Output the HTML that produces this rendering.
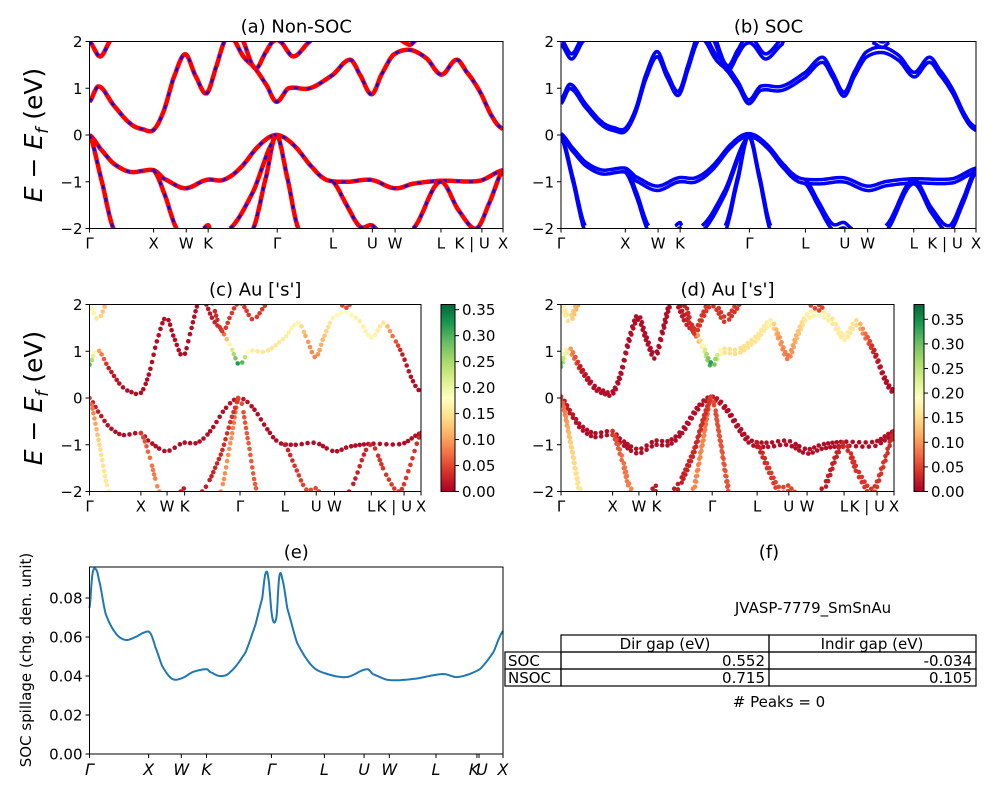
<!DOCTYPE html>
<html><head><meta charset="utf-8"><style>
body{margin:0;background:#fff}
svg{display:block;font-family:"DejaVu Sans","Liberation Sans",sans-serif}
</style></head><body>
<svg id="fig" width="1000" height="800" viewBox="0 0 1000 800" xmlns="http://www.w3.org/2000/svg">
<defs>
<linearGradient id="cmap" x1="0" y1="1" x2="0" y2="0">
<stop offset="0" stop-color="#a50026"/><stop offset="0.1" stop-color="#d73027"/><stop offset="0.2" stop-color="#f46d43"/><stop offset="0.3" stop-color="#fdae61"/><stop offset="0.4" stop-color="#fee08b"/><stop offset="0.5" stop-color="#ffffbf"/><stop offset="0.6" stop-color="#d9ef8b"/><stop offset="0.7" stop-color="#a6d96a"/><stop offset="0.8" stop-color="#66bd63"/><stop offset="0.9" stop-color="#1a9850"/><stop offset="1" stop-color="#006837"/>
</linearGradient>
</defs>
</svg>
<script>
// k-path labels (fractions of path, 0..100)
const kLabels = ["Γ","X","W","K","Γ","L","U","W","L","K | U","X"];
const kTicks = [0,15.5,23.4,28.7,45.4,58.9,68.4,73.9,85.0,94.9,100];
const eTicks = [2,1,0,-1,-2];
// bands: k positions and energies (eV)
const bandK = [
 [0,2.2,5.8,9.8,13.0,15.5,17.9,20.3,23.1,25.5,28.3,30.8,32.8,33.6],
 [34.4,37.2,40.0,42.8,45.2,48.1,53.3,58.9,63.0,65.4,68.2,70.6,73.4,77.5,81.5,85.1,88.7,91.1,94.4,97.6,100],
 [36.4,40.0,42.8,44.4,46.1,49.3,53.3,54.1],
 [0,2.6,5.4,5.8],
 [75.0,77.5,79.1],
 [0,2.6,5.8,9.8,15.5,17.9,23.1,28.3,32.4,36.4,41.2,45.2,49.3,54.1,57.3,62.2,68.2,73.8,78.3,84.7,94.4,100],
 [0,3.0,5.8],
 [15.5,17.9,21.1],
 [39.6,42.8,45.2,47.7,50.5],
 [34.0,39.6,44.4,45.2],
 [58.9,62.2,65.4,68.2,70.2],
 [78.3,84.7,89.5,93.6,96.8,100],
 [27.5,28.7,29.1]
];
const bandE = [
 [0.71,1.04,0.64,0.25,0.12,0.11,0.5,1.21,1.73,1.29,0.89,1.5,2.04,2.2],
 [2.1,1.68,1.43,1.07,0.71,1.0,1.0,1.29,1.61,1.29,0.87,1.29,1.71,1.82,1.64,1.29,1.61,1.36,0.93,0.36,0.13],
 [2.14,1.43,1.79,2.0,2.0,1.68,2.0,2.14],
 [2.0,1.68,2.07,2.14],
 [2.04,1.93,2.04],
 [0,-0.29,-0.61,-0.79,-0.75,-0.93,-1.14,-0.96,-0.96,-0.71,-0.21,0,-0.21,-0.71,-0.96,-1.0,-0.96,-1.14,-1.04,-0.98,-0.98,-0.75],
 [0,-1.0,-2.0],
 [-0.75,-1.21,-2.0],
 [-2.0,-0.86,0,-0.86,-2.0],
 [-2.0,-1.21,-0.14,0],
 [-1.0,-1.5,-1.96,-1.93,-2.07],
 [-2.0,-1.0,-1.64,-2.0,-1.43,-0.75],
 [-2.0,-1.93,-2.0]
];
// Au s-weights per band point
const bandW = [
 [0.3,0.12,0.02,0.01,0.01,0.01,0.01,0.01,0.01,0.01,0.01,0.01,0.01,0.01],
 [0.01,0.02,0.04,0.2,0.35,0.16,0.15,0.16,0.17,0.1,0.08,0.12,0.17,0.18,0.16,0.17,0.15,0.08,0.02,0.01,0.01],
 [0.02,0.04,0.04,0.04,0.04,0.04,0.04,0.04],
 [0.18,0.15,0.1,0.1],
 [0.05,0.05,0.05],
 [0.02,0.02,0.01,0.01,0.01,0.01,0.01,0.01,0.01,0.01,0.01,0.02,0.01,0.01,0.01,0.01,0.01,0.01,0.01,0.01,0.01,0.01],
 [0.05,0.14,0.16],
 [0.04,0.07,0.09],
 [0.09,0.09,0.05,0.06,0.06],
 [0.02,0.03,0.04,0.05],
 [0.02,0.04,0.05,0.05,0.05],
 [0.02,0.03,0.04,0.04,0.04,0.03],
 [0.02,0.02,0.02]
];
// spillage
const spK = [0,0.7,1.4,2.2,3.9,6.3,8.7,11.1,13.5,14.7,15.9,17.6,20.0,22.5,24.9,28.3,29.2,31.6,34.0,37.7,40.1,41.8,42.5,43.2,44.2,45.2,45.9,46.6,47.8,50.2,53.9,57.5,62.3,67.1,68.5,72.2,78.3,85.5,89.1,94.4,97.6,100];
const spV = [0.075,0.092,0.095,0.09,0.072,0.062,0.0585,0.06,0.0625,0.062,0.055,0.045,0.0385,0.039,0.042,0.0435,0.042,0.040,0.042,0.052,0.066,0.08,0.092,0.091,0.07,0.07,0.091,0.09,0.075,0.057,0.045,0.041,0.0395,0.0435,0.041,0.038,0.0385,0.041,0.0395,0.0435,0.052,0.063];
const spTickPos = [0,14.3,22.2,28.3,44.0,56.8,66.4,72.5,83.8,93.7,94.2,100];
const spTickLab = ["Γ","X","W","K","Γ","L","U","W","L","K","U","X"];
const spYTicks = [0,0.02,0.04,0.06,0.08];

const NS="http://www.w3.org/2000/svg";
const svg=document.getElementById('fig');
function el(tag,attrs,parent){const e=document.createElementNS(NS,tag);for(const k in attrs)e.setAttribute(k,attrs[k]);(parent||svg).appendChild(e);return e;}
function txt(x,y,s,size,anchor,parent,extra){const t=el('text',Object.assign({x:x,y:y,'font-size':size,'text-anchor':anchor||'middle',fill:'#000'},extra||{}),parent);t.textContent=s;return t;}
const stops=[[0,[165,0,38]],[.1,[215,48,39]],[.2,[244,109,67]],[.3,[253,174,97]],[.4,[254,224,139]],[.5,[255,255,191]],[.6,[217,239,139]],[.7,[166,217,106]],[.8,[102,189,99]],[.9,[26,152,80]],[1,[0,104,55]]];
function cmap(t){t=Math.max(0,Math.min(1,t));for(let i=1;i<stops.length;i++){if(t<=stops[i][0]){const a=stops[i-1],b=stops[i],f=(t-a[0])/(b[0]-a[0]);return 'rgb('+a[1].map((v,j)=>Math.round(v+(b[1][j]-v)*f)).join(',')+')';}}return 'rgb(0,104,55)';}
// smooth (Catmull-Rom) resampling of a band: returns [k,e,w] triples
function smooth(ks,es,ws){
  const out=[];const n=ks.length;const N=10;
  for(let i=0;i<n-1;i++){
    const i0=Math.max(0,i-1),i3=Math.min(n-1,i+2);
    for(let s=0;s<N;s++){
      const t=s/N,t2=t*t,t3=t2*t;
      const cr=(p0,p1,p2,p3)=>0.5*((2*p1)+(-p0+p2)*t+(2*p0-5*p1+4*p2-p3)*t2+(-p0+3*p1-3*p2+p3)*t3);
      const k=ks[i]+(ks[i+1]-ks[i])*t;
      out.push([k,cr(es[i0],es[i],es[i+1],es[i3]),ws[i]+(ws[i+1]-ws[i])*t]);
    }
  }
  out.push([ks[n-1],es[n-1],ws[n-1]]);
  return out;
}

function panel(id,x0,x1,y0,y1,title,mode,cmax){
  const g=el('g',{});  
  const X=k=>x0+(x1-x0)*k/100, Y=e=>y0+(y1-y0)*(2-e)/4;
  const cid='clip-'+id; const cp=el('clipPath',{id:cid},g); el('rect',{x:x0,y:y0,width:x1-x0,height:y1-y0},cp);
  const pg=el('g',{'clip-path':'url(#'+cid+')'},g);
  bandK.forEach((ks,b)=>{
    const pts=smooth(ks,bandE[b],bandW[b]);
    const offs = (mode==='soc'||mode==='dsoc') ? [-0.03,0.03] : [0];
    offs.forEach(o=>{
      const sh=(e)=>e+o*(1+0.5*Math.abs(e));
      if(mode==='line'||mode==='soc'){
        const d=pts.map((p,i)=>(i?'L':'M')+X(p[0]).toFixed(1)+','+Y(sh(p[1])).toFixed(1)).join('');
        if(mode==='line'){
          const p1=el('path',{d:d,fill:'none',stroke:'#ff0000','stroke-width':4.5,'stroke-linejoin':'round'},pg);
           
          el('path',{d:d,fill:'none',stroke:'#0000ff','stroke-width':2.5,'stroke-dasharray':'4 9'},pg);
        } else {
          const p1=el('path',{d:d,fill:'none',stroke:'#0000ff','stroke-width':3.5,'stroke-linejoin':'round'},pg);
           
        }
      } else {
        let last=-99, lx=-99, ly=-99;
        pts.forEach(p=>{
          const cx=X(p[0]), cy=Y(sh(p[1]));
          if(Math.hypot(cx-lx,cy-ly)<4.2) return;
          lx=cx; ly=cy;
          const c=el('circle',{cx:cx.toFixed(1),cy:cy.toFixed(1),r:2.3,fill:cmap(p[2]/cmax)},pg);
           
        });
      }
    });
  });
  el('rect',{x:x0,y:y0,width:x1-x0,height:y1-y0,fill:'none',stroke:'#000','stroke-width':1},g);
  eTicks.forEach(e=>{el('line',{x1:x0-4,x2:x0,y1:Y(e),y2:Y(e),stroke:'#000'},g);txt(x0-7,Y(e)+5.5,String(e).replace('-','−'),15,'end',g);});
  kTicks.forEach((k,i)=>{el('line',{x1:X(k),x2:X(k),y1:y1,y2:y1+4,stroke:'#000'},g);txt(X(k),y1+20,kLabels[i],15,i===9?'end':'middle',g, i===9?{dx:'8'}:{});});
  const t=txt((x0+x1)/2,y0-9,title,18,'middle',g);  
}
panel('panel-a-nonsoc',89.5,503,41.5,228.5,'(a) Non-SOC','line');
panel('panel-b-soc',561,976,41.5,228.5,'(b) SOC','soc');
panel('panel-c-au-s',89.5,421,304.5,491.5,"(c)  Au ['s']",'dots',0.36);
panel('panel-d-au-s',561,894,304.5,491.5,"(d) Au ['s']",'dsoc',0.38);

function colorbar(name,x,w,y0,y1,max){
  const g=el('g',{});  
  el('rect',{x:x,y:y0,width:w,height:y1-y0,fill:'url(#cmap)',stroke:'#000','stroke-width':1},g);
  for(let v=0;v<=0.351;v+=0.05){const y=y1-(y1-y0)*v/max;el('line',{x1:x+w,x2:x+w+4,y1:y,y2:y,stroke:'#000'},g);txt(x+w+7,y+5.5,v.toFixed(2),15,'start',g);}
}
colorbar('colorbar-c',441,14,304.5,491.5,0.36);
colorbar('colorbar-d',914,10,304.5,491.5,0.38);

// y labels
[135,398].forEach((cy,i)=>{const t=el('text',{transform:'translate(42,'+cy+') rotate(-90)','font-size':25,'text-anchor':'middle'});
  
 t.innerHTML='<tspan font-style="italic">E</tspan> − <tspan font-style="italic">E</tspan><tspan font-style="italic" font-size="17" dy="6">f</tspan><tspan dy="-6"> (eV)</tspan>';});

// spillage panel
(function(){
  const x0=89.5,x1=503,y0=567,y1=754;
  const g=el('g',{});  
  const X=k=>x0+(x1-x0)*k/100, Y=v=>y1-(v/0.02)*39;
  const sp=smooth(spK,spV,spV.map(()=>0));
  const d=sp.map((p,i)=>(i?'L':'M')+X(p[0]).toFixed(1)+','+Y(p[1]).toFixed(1)).join('');
  const p=el('path',{d:d,fill:'none',stroke:'#1f77b4','stroke-width':2,'stroke-linejoin':'round'},g);
   
  el('rect',{x:x0,y:y0,width:x1-x0,height:y1-y0,fill:'none',stroke:'#000'},g);
  spYTicks.forEach(v=>{el('line',{x1:x0-4,x2:x0,y1:Y(v),y2:Y(v),stroke:'#000'},g);txt(x0-7,Y(v)+5.5,v.toFixed(2),15,'end',g);});
  spTickPos.forEach((k,i)=>{el('line',{x1:X(k),x2:X(k),y1:y1,y2:y1+4,stroke:'#000'},g);txt(X(k)+(i===9?-3:i===10?3:0),y1+21,spTickLab[i],16,'middle',g,{'font-style':'italic'});});
  txt((x0+x1)/2,558,'(e)',18,'middle',g);
  const t=el('text',{transform:'translate(31,660) rotate(-90)','font-size':15,'text-anchor':'middle'},g);t.textContent='SOC spillage (chg. den. unit)';
   
})();

// table panel
(function(){
  const g=el('g',{});  
  txt(769,558,'(f)',18,'middle',g);
  txt(813,613,'JVASP-7779_SmSnAu',15,'middle',g);
  const s={fill:'none',stroke:'#000','stroke-width':1.2};
  el('rect',Object.assign({x:561,y:635,width:208,height:17},s),g);
  el('rect',Object.assign({x:769,y:635,width:207,height:17},s),g);
  [[652,'SOC','0.552','-0.034'],[669,'NSOC','0.715','0.105']].forEach(r=>{
    el('rect',Object.assign({x:505,y:r[0],width:56,height:17},s),g);
    el('rect',Object.assign({x:561,y:r[0],width:208,height:17},s),g);
    el('rect',Object.assign({x:769,y:r[0],width:207,height:17},s),g);
    txt(508,r[0]+14,r[1],15,'start',g);txt(765,r[0]+14,r[2],15,'end',g);txt(972,r[0]+14,r[3],15,'end',g);
  });
  txt(665,649,'Dir gap (eV)',15,'middle',g);txt(872,649,'Indir gap (eV)',15,'middle',g);
  txt(779,707,'# Peaks = 0',15,'middle',g);
})();
</script>
</body></html>
